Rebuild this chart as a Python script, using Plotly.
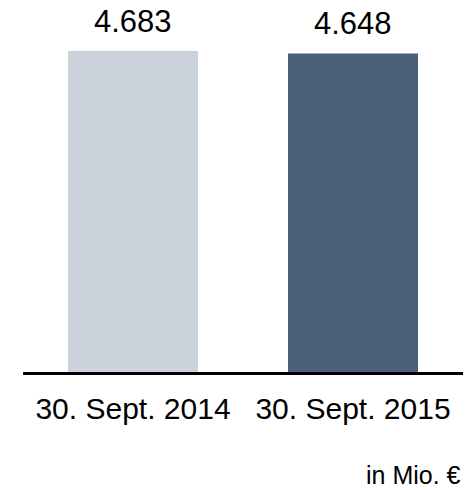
import plotly.graph_objects as go

categories = ["30. Sept. 2014", "30. Sept. 2015"]
values = [4683, 4648]
value_labels = ["4.683", "4.648"]
bar_colors = ["#CBD2DB", "#4C6079"]
unit_note = "in Mio. €"

FONT = "Liberation Sans, Arial, sans-serif"

fig = go.Figure()
fig.add_trace(go.Bar(
    x=categories, y=values,
    marker=dict(color=bar_colors, line=dict(width=0)),
    width=130 / 220,
    hoverinfo="skip",
))

for c, v, t in zip(categories, values, value_labels):
    fig.add_annotation(
        x=c, y=v, xref="x", yref="y", text=t, showarrow=False,
        yanchor="middle", yshift=30,
        font=dict(family=FONT, size=31, color="#000000"),
    )

fig.add_annotation(
    x=1, y=-0.321, xref="paper", yref="paper", text=unit_note, showarrow=False,
    xanchor="right", yanchor="middle",
    font=dict(family=FONT, size=25, color="#000000"),
)

fig.update_layout(
    width=476, height=490,
    margin=dict(l=23, r=13, t=51, b=118),
    paper_bgcolor="white", plot_bgcolor="white",
    showlegend=False,
    hovermode=False,
    xaxis=dict(
        showline=True, linecolor="#000000", linewidth=3,
        showgrid=False, zeroline=False, ticks="",
        tickfont=dict(family=FONT, size=30, color="#000000"),
        ticklabelstandoff=8,
        range=[-0.5, 1.5], fixedrange=True,
    ),
    yaxis=dict(
        visible=False, range=[0, 4683], showgrid=False, zeroline=False,
        fixedrange=True,
    ),
)

fig.write_html(
    "out.html",
    config={"displayModeBar": False, "staticPlot": True},
    post_script="document.body.style.margin='0';",
)
